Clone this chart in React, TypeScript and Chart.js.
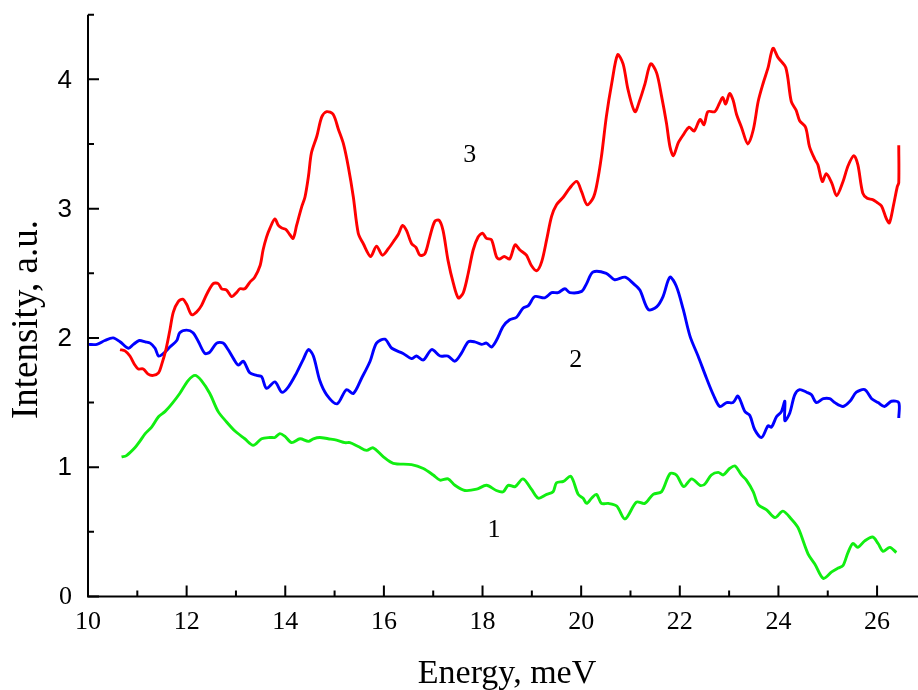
import React, { useEffect, useRef } from 'react';
import { Chart, registerables } from 'chart.js';

Chart.register(...registerables);

// ---- axis ranges and ticks ----
const X_MIN = 10;
const X_MAX = 26.83;
const Y_MIN = 0;
const Y_MAX = 4.5;
const X_MAJOR = [10, 12, 14, 16, 18, 20, 22, 24, 26];
const X_MINOR = [11, 13, 15, 17, 19, 21, 23, 25];
const Y_MAJOR = [0, 1, 2, 3, 4];
const Y_MINOR = [0.5, 1.5, 2.5, 3.5, 4.5];

const X_TITLE = 'Energy, meV';
const Y_TITLE = 'Intensity, a.u.';

// ---- curve 1 (green) ----
const curve1X = [
  10.68, 10.78, 10.95, 11.05, 11.16, 11.29, 11.43, 11.56, 11.7, 11.86, 12.03, 12.17, 12.3, 12.47, 12.64,
  12.81, 12.98, 13.18, 13.35, 13.52, 13.69, 13.79, 13.89, 13.99, 14.13, 14.3, 14.47, 14.57, 14.7, 14.87,
  15.04, 15.21, 15.31, 15.48, 15.65, 15.78, 15.99, 16.19, 16.56, 16.8, 17.0, 17.14, 17.3, 17.44, 17.64,
  17.88, 18.08, 18.28, 18.42, 18.52, 18.66, 18.82, 18.99, 19.13, 19.3, 19.43, 19.5, 19.64, 19.79, 19.94,
  20.04, 20.11, 20.21, 20.31, 20.41, 20.55, 20.72, 20.89, 21.12, 21.29, 21.46, 21.63, 21.8, 21.93, 22.08,
  22.24, 22.41, 22.51, 22.64, 22.78, 22.88, 23.01, 23.12, 23.25, 23.35, 23.49, 23.59, 23.76, 23.93, 24.09,
  24.26, 24.4, 24.6, 24.74, 24.91, 25.08, 25.21, 25.31, 25.41, 25.51, 25.61, 25.75, 25.91, 26.02, 26.12,
  26.26, 26.39,
];
const curve1Y = [
  1.08, 1.09, 1.15, 1.2, 1.26, 1.31, 1.39, 1.43, 1.49, 1.57, 1.67, 1.71, 1.67, 1.57, 1.43,
  1.35, 1.28, 1.22, 1.17, 1.22, 1.23, 1.23, 1.26, 1.24, 1.19, 1.22, 1.2, 1.22, 1.23, 1.22,
  1.21, 1.19, 1.19, 1.16, 1.13, 1.15, 1.08, 1.03, 1.02, 0.99, 0.94, 0.9, 0.91, 0.86, 0.82,
  0.83, 0.86, 0.82, 0.81, 0.86, 0.85, 0.91, 0.83, 0.76, 0.79, 0.81, 0.88, 0.89, 0.93, 0.79,
  0.76, 0.72, 0.76, 0.79, 0.72, 0.72, 0.7, 0.6, 0.73, 0.72, 0.79, 0.81, 0.95, 0.94, 0.85,
  0.91, 0.86, 0.87, 0.94, 0.96, 0.94, 0.99, 1.01, 0.94, 0.9, 0.81, 0.71, 0.67, 0.61, 0.66,
  0.6, 0.53, 0.33, 0.25, 0.14, 0.19, 0.22, 0.24, 0.34, 0.41, 0.38, 0.43, 0.46, 0.41, 0.35,
  0.38, 0.34,
];

// ---- curve 2 (blue) ----
const curve2X = [
  10.0, 10.18, 10.34, 10.51, 10.65, 10.82, 10.92, 11.04, 11.16, 11.26, 11.36, 11.43, 11.53, 11.66, 11.8,
  11.86, 12.0, 12.13, 12.24, 12.37, 12.47, 12.61, 12.74, 12.84, 12.95, 13.05, 13.15, 13.28, 13.42, 13.52,
  13.62, 13.79, 13.93, 14.06, 14.23, 14.36, 14.47, 14.57, 14.7, 14.84, 15.05, 15.24, 15.38, 15.55, 15.72,
  15.85, 16.02, 16.16, 16.39, 16.56, 16.66, 16.8, 16.97, 17.14, 17.3, 17.44, 17.57, 17.71, 17.84, 17.98,
  18.08, 18.18, 18.28, 18.42, 18.55, 18.69, 18.82, 18.93, 19.06, 19.26, 19.4, 19.53, 19.67, 19.77, 20.01,
  20.11, 20.24, 20.51, 20.68, 20.89, 21.06, 21.19, 21.36, 21.53, 21.66, 21.8, 21.93, 22.07, 22.21, 22.37,
  22.54, 22.68, 22.81, 22.95, 23.08, 23.18, 23.32, 23.42, 23.52, 23.66, 23.79, 23.86, 23.96, 24.06, 24.13,
  24.13, 24.23, 24.33, 24.43, 24.57, 24.67, 24.77, 24.91, 25.04, 25.14, 25.31, 25.45, 25.58, 25.75, 25.89,
  26.02, 26.15, 26.29, 26.44, 26.44,
];
const curve2Y = [
  1.95, 1.95, 1.98, 2.0, 1.97, 1.92, 1.95, 1.98, 1.97, 1.96, 1.92, 1.86, 1.88, 1.93, 1.98,
  2.04, 2.06, 2.04, 1.97, 1.88, 1.89, 1.96, 1.96, 1.91, 1.84, 1.79, 1.82, 1.73, 1.71, 1.7,
  1.61, 1.66, 1.58, 1.62, 1.73, 1.83, 1.91, 1.86, 1.67, 1.56, 1.49, 1.6, 1.57, 1.69, 1.82,
  1.96, 1.99, 1.92, 1.88, 1.84, 1.86, 1.83, 1.91, 1.86, 1.86, 1.82, 1.88, 1.97, 1.97, 1.95,
  1.96, 1.93, 1.98, 2.09, 2.14, 2.16, 2.23, 2.25, 2.32, 2.31, 2.35, 2.35, 2.38, 2.35, 2.36,
  2.42, 2.51, 2.5, 2.45, 2.47, 2.42, 2.37, 2.22, 2.24, 2.32, 2.47, 2.4, 2.22, 2.01, 1.86,
  1.69, 1.56, 1.47, 1.5, 1.5, 1.55, 1.43, 1.4, 1.29, 1.23, 1.32, 1.31, 1.39, 1.43, 1.51,
  1.36, 1.42, 1.56, 1.6, 1.58, 1.56, 1.5, 1.53, 1.53, 1.5, 1.47, 1.51, 1.58, 1.6, 1.53,
  1.5, 1.47, 1.51, 1.5, 1.38,
];

// ---- curve 3 (red) ----
const curve3X = [
  10.65, 10.75, 10.85, 10.95, 11.02, 11.12, 11.22, 11.32, 11.43, 11.49, 11.58, 11.66, 11.73, 11.83, 11.92,
  12.0, 12.1, 12.2, 12.3, 12.41, 12.54, 12.64, 12.71, 12.81, 12.91, 13.01, 13.08, 13.18, 13.28, 13.38,
  13.49, 13.55, 13.62, 13.69, 13.79, 13.86, 13.93, 14.01, 14.09, 14.16, 14.23, 14.33, 14.4, 14.47, 14.53,
  14.64, 14.74, 14.84, 14.97, 15.08, 15.18, 15.28, 15.38, 15.48, 15.58, 15.73, 15.85, 15.97, 16.09, 16.22,
  16.29, 16.38, 16.46, 16.56, 16.65, 16.73, 16.83, 16.93, 17.03, 17.12, 17.2, 17.3, 17.41, 17.51, 17.61,
  17.71, 17.81, 17.91, 18.0, 18.08, 18.18, 18.28, 18.34, 18.44, 18.55, 18.66, 18.76, 18.89, 18.99, 19.1,
  19.2, 19.3, 19.4, 19.5, 19.64, 19.77, 19.91, 20.01, 20.12, 20.24, 20.31, 20.41, 20.51, 20.62, 20.74,
  20.85, 20.95, 21.09, 21.19, 21.29, 21.41, 21.53, 21.63, 21.73, 21.8, 21.87, 21.97, 22.07, 22.19, 22.29,
  22.41, 22.49, 22.57, 22.71, 22.81, 22.87, 22.93, 23.01, 23.08, 23.15, 23.25, 23.38, 23.49, 23.59, 23.69,
  23.79, 23.89, 23.99, 24.15, 24.26, 24.36, 24.43, 24.55, 24.63, 24.74, 24.8, 24.89, 24.97, 25.08, 25.18,
  25.31, 25.41, 25.53, 25.61, 25.71, 25.8, 25.91, 25.99, 26.09, 26.19, 26.25, 26.33, 26.41, 26.44, 26.44,
];
const curve3Y = [
  1.91, 1.9, 1.86, 1.79, 1.76, 1.76, 1.72, 1.71, 1.73, 1.79, 1.91, 2.06, 2.2, 2.28, 2.3,
  2.26, 2.18, 2.2, 2.25, 2.34, 2.42, 2.42, 2.38, 2.37, 2.32, 2.35, 2.38, 2.38, 2.43, 2.47,
  2.56, 2.68, 2.78, 2.85, 2.92, 2.87, 2.85, 2.84, 2.8, 2.77, 2.87, 3.01, 3.09, 3.25, 3.43,
  3.56, 3.71, 3.75, 3.73, 3.61, 3.5, 3.32, 3.09, 2.81, 2.73, 2.63, 2.71, 2.64, 2.69, 2.76,
  2.8, 2.87, 2.83, 2.73, 2.7, 2.64, 2.65, 2.78, 2.9, 2.91, 2.83, 2.6, 2.42, 2.31, 2.35,
  2.5, 2.68, 2.78, 2.81, 2.77, 2.76, 2.63, 2.61, 2.63, 2.61, 2.72, 2.68, 2.64, 2.56, 2.52,
  2.59, 2.76, 2.94, 3.03, 3.09, 3.16, 3.21, 3.13, 3.03, 3.08, 3.17, 3.4, 3.71, 3.97, 4.19,
  4.12, 3.92, 3.75, 3.84, 3.96, 4.12, 4.05, 3.87, 3.66, 3.48, 3.41, 3.51, 3.57, 3.63, 3.6,
  3.69, 3.65, 3.75, 3.75, 3.82, 3.86, 3.81, 3.89, 3.84, 3.73, 3.63, 3.5, 3.61, 3.83, 3.97,
  4.09, 4.24, 4.17, 4.09, 3.83, 3.76, 3.68, 3.63, 3.48, 3.38, 3.34, 3.21, 3.27, 3.2, 3.1,
  3.21, 3.33, 3.41, 3.34, 3.12, 3.08, 3.07, 3.05, 3.02, 2.92, 2.89, 3.02, 3.17, 3.2, 3.49,
];

// ---- in-plot curve labels ----
const curveLabels = ['1', '2', '3'];
const curveLabelX = [18.23, 19.89, 17.74];
const curveLabelY = [0.51, 1.83, 3.41];

const SERIF = '"Liberation Serif", "Times New Roman", serif';
const SANS = '"Liberation Sans", Arial, sans-serif';

const toPoints = (xs: number[], ys: number[]) => xs.map((x, i) => ({ x, y: ys[i] }));

const decorPlugin = {
  id: 'decor',
  afterDraw(chart: any) {
    const { ctx, chartArea } = chart;
    const { left, right, top, bottom } = chartArea;
    const xs = chart.scales.x;
    const ys = chart.scales.y;
    ctx.save();
    ctx.strokeStyle = '#000';
    ctx.lineWidth = 2;
    ctx.lineCap = 'butt';
    ctx.beginPath();
    ctx.moveTo(left, top);
    ctx.lineTo(left, bottom);
    ctx.lineTo(right, bottom);
    ctx.stroke();
    ctx.beginPath();
    for (const v of X_MAJOR) {
      const p = xs.getPixelForValue(v);
      ctx.moveTo(p, bottom);
      ctx.lineTo(p, bottom - 11);
    }
    for (const v of X_MINOR) {
      const p = xs.getPixelForValue(v);
      ctx.moveTo(p, bottom);
      ctx.lineTo(p, bottom - 6);
    }
    for (const v of Y_MAJOR) {
      const p = ys.getPixelForValue(v);
      ctx.moveTo(left, p);
      ctx.lineTo(left + 11, p);
    }
    for (const v of Y_MINOR) {
      const p = ys.getPixelForValue(v);
      ctx.moveTo(left, p);
      ctx.lineTo(left + 6, p);
    }
    ctx.stroke();

    ctx.fillStyle = '#000';

    // y tick labels
    ctx.textAlign = 'right';
    ctx.textBaseline = 'middle';
    for (const v of Y_MAJOR) {
      ctx.font = `26px ${v === 0 ? SERIF : SANS}`;
      ctx.fillText(String(v), left - 16, ys.getPixelForValue(v) + 1);
    }

    // curve labels
    ctx.font = `26px ${SERIF}`;
    ctx.textAlign = 'center';
    ctx.textBaseline = 'middle';
    curveLabels.forEach((t, i) => {
      ctx.fillText(t, xs.getPixelForValue(curveLabelX[i]), ys.getPixelForValue(curveLabelY[i]));
    });

    // axis titles
    ctx.textBaseline = 'alphabetic';
    ctx.font = `34px ${SERIF}`;
    ctx.fillText(X_TITLE, (left + right) / 2 + 4, 683);
    ctx.translate(37, (top + bottom) / 2 + 14);
    ctx.rotate(-Math.PI / 2);
    ctx.font = `37px ${SERIF}`;
    ctx.fillText(Y_TITLE, 0, 0);
    ctx.restore();
  },
};

export default function App() {
  const ref = useRef<HTMLCanvasElement | null>(null);
  useEffect(() => {
    document.body.style.margin = '0';
    const canvas = ref.current;
    if (!canvas) return;
    const chart = new Chart(canvas, {
      type: 'line',
      data: {
        datasets: [
          {
            label: '3',
            data: toPoints(curve3X, curve3Y),
            borderColor: '#ff0000',
            borderWidth: 2.9,
            pointRadius: 0,
            tension: 0.3,
            fill: false,
          },
          {
            label: '2',
            data: toPoints(curve2X, curve2Y),
            borderColor: '#0000ff',
            borderWidth: 2.9,
            pointRadius: 0,
            tension: 0.3,
            fill: false,
          },
          {
            label: '1',
            data: toPoints(curve1X, curve1Y),
            borderColor: '#11ee11',
            borderWidth: 2.9,
            pointRadius: 0,
            tension: 0.3,
            fill: false,
          },
        ],
      },
      options: {
        animation: false,
        responsive: false,
        devicePixelRatio: 1,
        layout: { padding: { top: 14.7, left: 0, right: 0, bottom: 0 } },
        plugins: { legend: { display: false }, tooltip: { enabled: false } },
        scales: {
          x: {
            type: 'linear',
            min: X_MIN,
            max: X_MAX,
            grid: { display: false, drawTicks: false },
            border: { display: false },
            ticks: {
              stepSize: 2,
              includeBounds: false,
              autoSkip: false,
              maxRotation: 0,
              padding: 10,
              color: '#000',
              font: { family: SERIF, size: 26 },
            },
            afterFit: (s: any) => {
              s.height = 93.5;
              s.paddingLeft = 0;
              s.paddingRight = 0;
            },
          },
          y: {
            type: 'linear',
            min: Y_MIN,
            max: Y_MAX,
            grid: { display: false, drawTicks: false },
            border: { display: false },
            ticks: {
              stepSize: 1,
              includeBounds: false,
              display: false,
            },
            afterFit: (s: any) => {
              s.width = 88;
              s.paddingTop = 0;
              s.paddingBottom = 0;
            },
          },
        },
      },
      plugins: [decorPlugin],
    } as any);
    return () => chart.destroy();
  }, []);
  return (
    <div style={{ width: 918, height: 690 }}>
      <canvas ref={ref} width={918} height={690} style={{ display: 'block' }} />
    </div>
  );
}
